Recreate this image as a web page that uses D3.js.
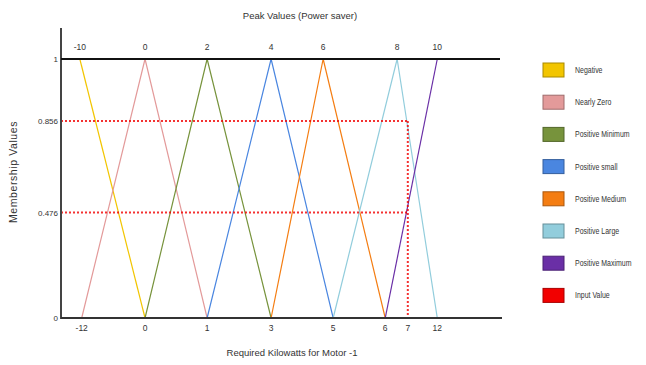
<!DOCTYPE html>
<html>
<head>
<meta charset="utf-8">
<script src="https://cdn.jsdelivr.net/npm/d3@7"></script>
<style>
  body { margin: 0; background: #fff; }
  svg { display: block; }
  text { font-family: "Liberation Sans", Arial, sans-serif; fill: #333; }
</style>
</head>
<body>
<svg width="646" height="365"></svg>
<script>
// categories + colours
const categories = ["Negative", "Nearly Zero", "Positive Minimum", "Positive small",
                    "Positive Medium", "Positive Large", "Positive Maximum", "Input Value"];
const colors = ["#f2c500", "#e39a9a", "#77933c", "#4a86e0", "#f47d12", "#92cddc", "#6a2fa6", "#f20000"];

// x positions are in "slot" units along the drawn axis (labels are not linear)
const topTickPos = [0.3, 1.34, 2.33, 3.35, 4.18, 5.36, 6.0];
const topTickLabels = ["-10", "0", "2", "4", "6", "8", "10"];
const bottomTickPos = [0.33, 1.34, 2.33, 3.35, 4.34, 5.17, 5.53, 6.0];
const bottomTickLabels = ["-12", "0", "1", "3", "5", "6", "7", "12"];

// y ticks
const yTicks = [0, 0.476, 0.856, 1];
const yTickLabels = ["0", "0.476", "0.856", "1"];

// membership functions: [position, membership]
const negative   = [[0.3, 1], [1.34, 0]];
const nearlyZero = [[0.33, 0], [1.34, 1], [2.33, 0]];
const posMinimum = [[1.34, 0], [2.33, 1], [3.35, 0]];
const posSmall   = [[2.33, 0], [3.35, 1], [4.34, 0]];
const posMedium  = [[3.35, 0], [4.18, 1], [5.17, 0]];
const posLarge   = [[4.34, 0], [5.36, 1], [6.0, 0]];
const posMaximum = [[5.17, 0], [6.0, 1]];
const series = [negative, nearlyZero, posMinimum, posSmall, posMedium, posLarge, posMaximum];

// input value
const inputPos = 5.53;
const inputLevels = [0.856, 0.476];

var svg = d3.select("svg");

var x = d3.scaleLinear().domain([0, 7]).range([61, 500]);
// the picture's y axis is not evenly spaced, so map it piecewise
var y = d3.scaleLinear().domain(yTicks).range([318, 212.5, 121, 59]);

var line = d3.line().x(d => x(d[0])).y(d => y(d[1]));

// membership lines
svg.append("g")
    .selectAll("path")
    .data(series)
    .enter()
    .append("path")
    .attr("d", line)
    .attr("fill", "none")
    .attr("stroke", (d, i) => colors[i])
    .attr("stroke-width", 1.2);

// input value dashed lines
var red = svg.append("g")
    .attr("stroke", colors[7])
    .attr("stroke-width", 2)
    .attr("stroke-dasharray", "2,2")
    .attr("opacity", 0.8);

red.selectAll("line.h")
    .data(inputLevels)
    .enter()
    .append("line")
    .attr("class", "h")
    .attr("x1", x(0))
    .attr("x2", x(inputPos))
    .attr("y1", d => y(d))
    .attr("y2", d => y(d));

red.append("line")
    .attr("x1", x(inputPos))
    .attr("x2", x(inputPos))
    .attr("y1", y(d3.max(inputLevels)))
    .attr("y2", y(0));

// axes lines
svg.append("line")
    .attr("x1", x(0)).attr("x2", x(0))
    .attr("y1", y(1) - 31).attr("y2", y(0) + 1)
    .attr("stroke", "#444").attr("stroke-width", 2);

svg.append("line")
    .attr("x1", x(0)).attr("x2", x(7) + 2)
    .attr("y1", y(0)).attr("y2", y(0))
    .attr("stroke", "#333").attr("stroke-width", 2);

svg.append("line")
    .attr("x1", x(0)).attr("x2", x(7))
    .attr("y1", y(1)).attr("y2", y(1))
    .attr("stroke", "#111").attr("stroke-width", 2);

// y axis labels
var yAxis = d3.axisLeft(y)
    .tickValues(yTicks)
    .tickFormat((d, i) => yTickLabels[i])
    .tickSize(0)
    .tickPadding(3);

var yg = svg.append("g")
    .attr("transform", "translate(" + x(0) + ",0)")
    .call(yAxis);
yg.select(".domain").remove();
yg.selectAll("text")
    .attr("font-family", null)
    .style("font-size", "8px");

// top peak labels
svg.append("g")
    .selectAll("text")
    .data(topTickPos)
    .enter()
    .append("text")
    .attr("x", d => x(d))
    .attr("y", y(1) - 9)
    .attr("text-anchor", "middle")
    .style("font-size", "8.5px")
    .text((d, i) => topTickLabels[i]);

// bottom labels
svg.append("g")
    .selectAll("text")
    .data(bottomTickPos)
    .enter()
    .append("text")
    .attr("x", d => x(d))
    .attr("y", y(0) + 13)
    .attr("text-anchor", "middle")
    .style("font-size", "8.5px")
    .text((d, i) => bottomTickLabels[i]);

// titles
svg.append("text")
    .attr("x", 300)
    .attr("y", 19)
    .attr("text-anchor", "middle")
    .style("font-size", "9.5px")
    .text("Peak Values (Power saver)");

svg.append("text")
    .attr("x", 292)
    .attr("y", 356)
    .attr("text-anchor", "middle")
    .style("font-size", "9.5px")
    .text("Required Kilowatts for Motor -1");

svg.append("text")
    .attr("transform", "translate(17,172) rotate(-90)")
    .attr("text-anchor", "middle")
    .style("font-size", "10.5px")
    .style("letter-spacing", "0.6px")
    .text("Membership Values");

// legend
var legend = svg.append("g")
    .selectAll("g")
    .data(categories)
    .enter()
    .append("g")
    .attr("transform", (d, i) => "translate(543," + (70 + i * 32.2) + ")");

legend.append("rect")
    .attr("x", 0)
    .attr("y", -7)
    .attr("width", 21)
    .attr("height", 14)
    .attr("fill", (d, i) => colors[i])
    .attr("stroke", (d, i) => d3.color(colors[i]).darker(1))
    .attr("stroke-width", 1);

// narrow type, like the original
legend.append("text")
    .attr("transform", "translate(32,3) scale(0.82,1)")
    .style("font-size", "8.5px")
    .text(d => d);
</script>
</body>
</html>
